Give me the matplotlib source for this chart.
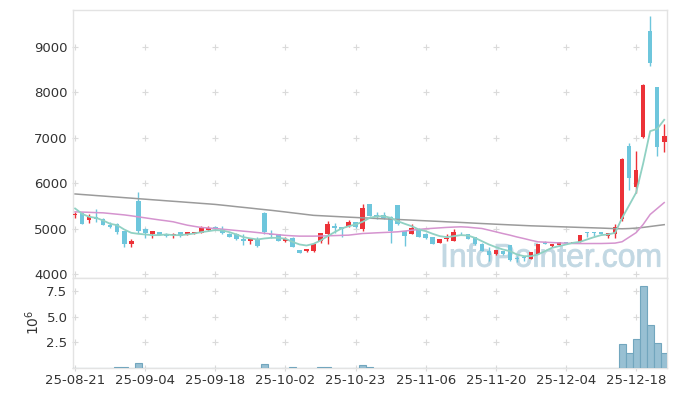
import numpy as np
import matplotlib.pyplot as plt
from matplotlib.textpath import TextPath
from matplotlib.patches import PathPatch
from matplotlib.font_manager import FontProperties
from matplotlib.transforms import Affine2D

# daily candles, 25-08-21 .. 25-12-24 (trading days only)
opens = [5300, 5355, 5196, 5260, 5216, 5085, 5100, 4953, 4660, 5612,
         4990, 4880, 4924, 4887, 4865, 4924, 4880, 4894, 4916, 4975,
         5050, 5010, 4900, 4880, 4790, 4735, 4770, 5360, 4900, 4880,
         4735, 4810, 4530, 4510, 4510, 4730, 4895, 5076, 5033, 5062,
         5143, 4990, 5540, 5300, 5310, 5270, 5520, 4950, 4900, 5010,
         4880, 4830, 4700, 4770, 4735, 4900, 4880, 4820, 4680, 4520,
         4440, 4510, 4650, 4360, 4380, 4340, 4460, 4710, 4620, 4650,
         4720, 4690, 4720, 4920, 4925, 4930, 4845, 4880, 5210, 6820,
         5920, 7020, 9360, 8120, 6910]
highs = [5380, 5370, 5320, 5430, 5245, 5158, 5136, 4960, 4770, 5817,
         5026, 4960, 4930, 4910, 4910, 4930, 4930, 4940, 5055, 5055,
         5060, 5063, 4910, 4920, 4895, 4795, 4820, 5365, 4975, 4890,
         4830, 4815, 4540, 4570, 4680, 4920, 5172, 5135, 5040, 5187,
         5150, 5540, 5545, 5380, 5380, 5275, 5525, 4955, 5110, 5015,
         4920, 4835, 4775, 4880, 4990, 4940, 4885, 4825, 4685, 4600,
         4540, 4515, 4655, 4400, 4385, 4495, 4665, 4740, 4675, 4725,
         4725, 4725, 4865, 4925, 4930, 4940, 4920, 5100, 6550, 6880,
         6710, 8180, 9690, 8130, 7300]
lows = [5250, 5100, 5136, 5158, 5080, 5011, 4880, 4600, 4600, 4916,
        4800, 4806, 4860, 4830, 4810, 4830, 4870, 4880, 4910, 4965,
        4980, 4895, 4815, 4765, 4645, 4675, 4615, 4895, 4810, 4730,
        4720, 4600, 4465, 4505, 4505, 4700, 4674, 4916, 4820, 5050,
        5030, 4960, 5275, 5210, 5220, 4700, 5095, 4620, 4880, 4815,
        4780, 4675, 4695, 4740, 4730, 4875, 4785, 4655, 4515, 4300,
        4435, 4435, 4305, 4280, 4300, 4335, 4455, 4670, 4615, 4645,
        4690, 4685, 4715, 4830, 4840, 4880, 4800, 4800, 5180, 5860,
        5800, 7000, 8580, 6600, 6690]
closes = [5335, 5115, 5260, 5216, 5085, 5041, 4930, 4674, 4733, 4953,
          4916, 4953, 4865, 4843, 4894, 4836, 4924, 4931, 5026, 5026,
          4990, 4902, 4822, 4770, 4730, 4790, 4620, 4940, 4860, 4735,
          4790, 4605, 4470, 4560, 4675, 4915, 5115, 5011, 4997, 5143,
          5040, 5460, 5280, 5270, 5250, 4950, 5100, 4840, 5020, 4820,
          4810, 4680, 4770, 4800, 4930, 4880, 4790, 4660, 4520, 4420,
          4530, 4440, 4310, 4330, 4370, 4490, 4660, 4675, 4670, 4720,
          4695, 4720, 4860, 4910, 4915, 4885, 4915, 5040, 6540, 6130,
          6290, 8170, 8650, 6800, 7050]
volumes = [30000, 25000, 35000, 30000, 40000, 35000, 120000, 120000, 45000, 450000,
           40000, 30000, 25000, 20000, 25000, 20000, 25000, 30000, 35000, 30000,
           30000, 25000, 25000, 20000, 30000, 25000, 30000, 350000, 40000, 30000,
           25000, 120000, 40000, 30000, 40000, 120000, 120000, 40000, 30000, 35000,
           30000, 250000, 50000, 30000, 25000, 40000, 45000, 35000, 30000, 25000,
           20000, 25000, 20000, 20000, 30000, 20000, 20000, 25000, 30000, 35000,
           25000, 20000, 40000, 30000, 20000, 25000, 30000, 20000, 20000, 25000,
           15000, 20000, 30000, 25000, 20000, 20000, 25000, 40000, 2300000, 1500000,
           2850000, 8000000, 4200000, 2400000, 1450000]

# moving averages as drawn (5 / 20 / long)
ma5 = [5451, 5333, 5267, 5245, 5187, 5114, 5084, 4989, 4916, 4894,
       4880, 4865, 4865, 4880, 4865, 4865, 4880, 4902, 4931, 4953,
       4975, 4968, 4931, 4880, 4821, 4792, 4770, 4792, 4806, 4806,
       4784, 4718, 4660, 4637, 4674, 4747, 4843, 4931, 5011, 5062,
       5099, 5158, 5245, 5275, 5282, 5245, 5172, 5114, 5062, 4989,
       4953, 4894, 4843, 4821, 4843, 4865, 4858, 4806, 4733, 4660,
       4601, 4550, 4513, 4440, 4403, 4403, 4440, 4513, 4586, 4623,
       4660, 4696, 4718, 4770, 4821, 4865, 4880, 4916, 5245, 5520,
       5800, 6440, 7150, 7200, 7400]
ma20 = [5377, 5372, 5366, 5360, 5355, 5340, 5325, 5310, 5290, 5267,
        5245, 5222, 5200, 5180, 5158, 5120, 5084, 5058, 5033, 5022,
        5011, 4996, 4982, 4967, 4952, 4938, 4922, 4906, 4890, 4874,
        4860, 4850, 4843, 4843, 4843, 4846, 4850, 4855, 4860, 4865,
        4883, 4901, 4908, 4916, 4923, 4930, 4938, 4955, 4973, 4990,
        5005, 5015, 5025, 5035, 5042, 5048, 5040, 5025, 5011, 4975,
        4938, 4900, 4865, 4825, 4790, 4752, 4718, 4710, 4702, 4695,
        4688, 4681, 4680, 4680, 4681, 4681, 4685, 4690, 4720, 4820,
        4920, 5100, 5320, 5450, 5580]
ma_long = [5770, 5758, 5747, 5735, 5724, 5712, 5701, 5689, 5678, 5666,
           5655, 5643, 5632, 5620, 5609, 5598, 5586, 5575, 5563, 5552,
           5540, 5524, 5508, 5491, 5475, 5459, 5442, 5426, 5410, 5392,
           5374, 5355, 5337, 5318, 5300, 5292, 5284, 5276, 5268, 5260,
           5253, 5245, 5238, 5231, 5223, 5216, 5209, 5202, 5195, 5187,
           5180, 5173, 5166, 5158, 5151, 5144, 5136, 5128, 5120, 5113,
           5105, 5098, 5091, 5084, 5077, 5070, 5065, 5060, 5055, 5050,
           5045, 5040, 5035, 5030, 5025, 5020, 5014, 5008, 5005, 5010,
           5020, 5035, 5055, 5075, 5095]

tick_pos = [0, 10, 20, 30, 40, 50, 60, 70, 80]
tick_labels = ['25-08-21', '25-09-04', '25-09-18', '25-10-02', '25-10-23',
               '25-11-06', '25-11-20', '25-12-04', '25-12-18']
price_ticks = [4000, 5000, 6000, 7000, 8000, 9000]
vol_ticks = [2.5e6, 5e6, 7.5e6]

up_color = '#ec3238'
down_color = '#6ec6dc'
spine_color = '#e3e3e3'
cross_color = '#dadada'

plt.rcParams['font.family'] = ['DejaVu Sans']

fig = plt.figure(figsize=(6.77, 3.96), dpi=100)
ax = fig.add_axes([73 / 677, 1 - 278 / 396, 594 / 677, 268 / 396])
axv = fig.add_axes([73 / 677, 1 - 368 / 396, 594 / 677, 90 / 396], sharex=ax)

x = np.arange(len(closes))
o = np.array(opens)
h = np.array(highs)
l = np.array(lows)
c = np.array(closes)
colors = np.where(c >= o, up_color, down_color)

# candles
ax.vlines(x, l, h, colors=colors, lw=1.0, zorder=3)
ax.bar(x, np.maximum(np.abs(c - o), 15), bottom=np.minimum(o, c), width=0.66,
       color=colors, zorder=4)

# moving averages
ax.plot(x, ma_long, color='#9b9b9b', lw=1.1, zorder=5)
ax.plot(x, ma20, color='#d594cf', lw=1.1, zorder=5)
ax.plot(x, ma5, color='#90d1c3', lw=1.3, zorder=5)

# volume
axv.bar(x, volumes, width=1.0, color='#98c0d3', edgecolor='#72a6be', lw=0.8, zorder=3)


def crosses(a, xs, ys):
    gx, gy = np.meshgrid(xs, ys)
    a.scatter(gx.ravel(), gy.ravel(), marker='+', s=14, c=cross_color,
              linewidths=0.8, zorder=1, clip_on=False)


crosses(ax, tick_pos, price_ticks)
crosses(axv, tick_pos, [0] + vol_ticks)

ax.set_xlim(-0.3, 84.4)
ax.set_ylim(3923, 9813)
axv.set_ylim(0, 8.8e6)

ax.set_yticks(price_ticks)
ax.set_yticklabels([str(t) for t in price_ticks])
axv.set_yticks(vol_ticks)
axv.set_yticklabels(['2.5', '5.0', '7.5'])
axv.set_xticks(tick_pos)
axv.set_xticklabels(tick_labels)
ax.tick_params(axis='x', labelbottom=False, length=0)

for a in (ax, axv):
    a.tick_params(length=0, labelsize=9.5, colors='#333333', pad=4)
    for s in a.spines.values():
        s.set_color(spine_color)
        s.set_linewidth(1.0)

fig.text(33 / 677, 1 - 322 / 396, r'$10^6$', rotation=90, ha='center',
         va='center', fontsize=10, color='#333333')

# watermark, stretched into its box
tp = TextPath((0, 0), 'InfoPointer.com', size=1,
              prop=FontProperties(family='Liberation Sans'))
bb = tp.get_extents()
x0, x1, y0, y1 = 4.43, 6.60, 1.29, 1.53
tr = (Affine2D().translate(-bb.x0, -bb.y0)
      .scale((x1 - x0) / bb.width, (y1 - y0) / bb.height)
      .translate(x0, y0) + fig.dpi_scale_trans)
wm = PathPatch(tp, transform=tr, facecolor='#c2d8e3', edgecolor='#c2d8e3',
               lw=0.6, zorder=2)
wm.set_clip_on(False)
ax.add_artist(wm)

fig.savefig('out.png', dpi=100)
